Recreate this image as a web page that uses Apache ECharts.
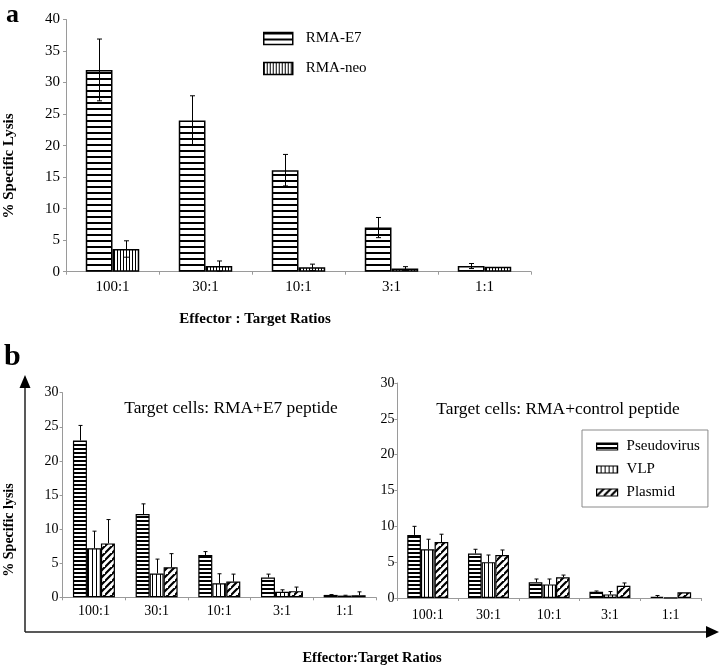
<!DOCTYPE html>
<html>
<head>
<meta charset="utf-8">
<script src="https://cdn.jsdelivr.net/npm/echarts@6/dist/echarts.min.js"></script>
<style>html,body{margin:0;padding:0;background:#fff}#c{width:721px;height:667px}</style>
</head>
<body>
<div id="c"></div>
<script>
// ---------- data ----------
const categories = ['100:1', '30:1', '10:1', '3:1', '1:1'];
const aE7 = [32.0, 24.0, 16.1, 7.0, 0.9];
const aE7Err = [4.9, 3.9, 2.5, 1.6, 0.4];
const aNeo = [3.6, 0.9, 0.7, 0.5, 0.8];
const aNeoErr = [1.3, 0.8, 0.5, 0.3, 0.0];

const bE7Pseudo = [23.0, 12.2, 6.2, 2.9, 0.35];
const bE7PseudoErr = [2.2, 1.5, 0.5, 0.5, 0.05];
const bE7VLP = [7.2, 3.5, 2.05, 0.8, 0.25];
const bE7VLPErr = [2.5, 2.1, 1.4, 0.3, 0.05];
const bE7Plasmid = [7.9, 4.4, 2.3, 0.9, 0.3];
const bE7PlasmidErr = [3.5, 2.0, 1.1, 0.6, 0.5];

const bCtlPseudo = [8.8, 6.2, 2.2, 0.88, 0.15];
const bCtlPseudoErr = [1.2, 0.6, 0.45, 0.1, 0.2];
const bCtlVLP = [6.8, 5.0, 1.9, 0.5, 0.05];
const bCtlVLPErr = [1.4, 1.0, 0.75, 0.4, 0.0];
const bCtlPlasmid = [7.8, 6.0, 2.9, 1.7, 0.8];
const bCtlPlasmidErr = [1.1, 0.7, 0.3, 0.4, 0.0];

const aYTicks = {min: 0, max: 40, interval: 5};
const bYTicks = {min: 0, max: 30, interval: 5};

// ---------- patterns ----------
function hPattern(period, thick) {
  const c = document.createElement('canvas');
  c.width = 8; c.height = period;
  const g = c.getContext('2d');
  g.fillStyle = '#fff'; g.fillRect(0, 0, 8, period);
  g.fillStyle = '#000'; g.fillRect(0, 0, 8, thick);
  return {image: c, repeat: 'repeat'};
}
function vPattern(period, thick) {
  const c = document.createElement('canvas');
  c.width = period; c.height = 8;
  const g = c.getContext('2d');
  g.fillStyle = '#fff'; g.fillRect(0, 0, period, 8);
  g.fillStyle = '#000'; g.fillRect(0, 0, thick, 8);
  return {image: c, repeat: 'repeat'};
}
function dPattern(s, lw) {
  const c = document.createElement('canvas');
  c.width = s; c.height = s;
  const g = c.getContext('2d');
  g.fillStyle = '#fff'; g.fillRect(0, 0, s, s);
  g.strokeStyle = '#000'; g.lineWidth = lw;
  g.beginPath();
  g.moveTo(-1, s + 1); g.lineTo(s + 1, -1);
  g.moveTo(-1 - s, s + 1); g.lineTo(1, -1);
  g.moveTo(s - 1, 2 * s + 1); g.lineTo(2 * s + 1, s - 1);
  g.stroke();
  return {image: c, repeat: 'repeat'};
}

const FONT = "'Liberation Serif', 'Times New Roman', serif";
const AXIS_GRAY = '#9a9a9a';

function barSeries(name, xi, data, pattern, gap, bw) {
  return {
    type: 'bar', name, xAxisIndex: xi, yAxisIndex: xi, data,
    barGap: '0%', barCategoryGap: gap,
    itemStyle: {color: pattern, borderColor: '#000', borderWidth: bw},
    emphasis: {disabled: true}, silent: true, animation: false
  };
}
function errSeries(xi, vals, errs, idx, n, gapFrac, sym, capW) {
  return {
    type: 'custom', xAxisIndex: xi, yAxisIndex: xi, silent: true, animation: false, z: 5,
    data: vals.map((v, i) => [i, v, errs[i]]),
    renderItem(params, api) {
      const i = api.value(0), v = api.value(1), e = api.value(2);
      if (!e) return null;
      const band = api.size([1, 0])[0];
      const gw = band * (1 - gapFrac), bw = gw / n;
      const off = -gw / 2 + (idx + 0.5) * bw;
      const t = api.coord([i, v + e]);
      const b = api.coord([i, sym ? v - e : v]);
      const x = Math.round(t[0] + off) + 0.5;
      const st = {stroke: '#000', lineWidth: 1};
      const ch = [
        {type: 'line', shape: {x1: x, y1: t[1], x2: x, y2: b[1]}, style: st},
        {type: 'line', shape: {x1: x - capW, y1: t[1], x2: x + capW, y2: t[1]}, style: st}
      ];
      if (sym) ch.push({type: 'line', shape: {x1: x - capW, y1: b[1], x2: x + capW, y2: b[1]}, style: st});
      return {type: 'group', children: ch};
    }
  };
}

function catAxis(gi, fs, margin) {
  return {
    type: 'category', gridIndex: gi, data: categories,
    axisLine: {lineStyle: {color: AXIS_GRAY, width: 1}},
    axisTick: {show: true, length: 3, lineStyle: {color: AXIS_GRAY}},
    axisLabel: {color: '#000', fontFamily: FONT, fontSize: fs, margin}
  };
}
function valAxis(gi, t, fs, margin) {
  return {
    type: 'value', gridIndex: gi, min: t.min, max: t.max, interval: t.interval,
    splitLine: {show: false},
    axisLine: {show: true, lineStyle: {color: AXIS_GRAY, width: 1}},
    axisTick: {show: true, length: 3, lineStyle: {color: AXIS_GRAY}},
    axisLabel: {color: '#000', fontFamily: FONT, fontSize: fs, margin}
  };
}

const pA_H = hPattern(6, 2), pA_V = vPattern(3, 1);
const pB_H = hPattern(4, 2), pB_V = vPattern(4, 1), pB_D = dPattern(7, 2.2);

const gapA = 0.425, gapB1 = 0.33, gapB2 = 0.325;

const chart = echarts.init(document.getElementById('c'), null, {renderer: 'canvas'});
chart.setOption({
  backgroundColor: '#fff',
  animation: false,
  grid: [
    {left: 66, right: 190, top: 19.5, bottom: 395.3, containLabel: false},
    {left: 62.6, right: 345, top: 392.7, bottom: 69.7, containLabel: false},
    {left: 397.4, right: 20, top: 383, bottom: 69, containLabel: false}
  ],
  xAxis: [catAxis(0, 15, 8), catAxis(1, 14, 7), catAxis(2, 14, 10)],
  yAxis: [valAxis(0, aYTicks, 15, 6), valAxis(1, bYTicks, 14, 4), valAxis(2, bYTicks, 14, 3)],
  legend: [
    {
      data: ['RMA-E7', 'RMA-neo'], orient: 'vertical', left: 263, top: 31, padding: 0,
      icon: 'rect', itemWidth: 29, itemHeight: 12, itemGap: 15, selectedMode: false,
      itemStyle: {borderColor: '#000', borderWidth: 1.5},
      textStyle: {fontFamily: FONT, fontSize: 15, color: '#000', padding: [0, 0, 0, 8]}
    },
    {
      data: ['Pseudovirus', 'VLP', 'Plasmid'], orient: 'vertical', left: 582, top: 430,
      padding: [9, 8, 7, 14], borderColor: '#8a8a8a', borderWidth: 1,
      icon: 'rect', itemWidth: 21, itemHeight: 7, itemGap: 8, selectedMode: false,
      itemStyle: {borderColor: '#000', borderWidth: 1.2},
      textStyle: {fontFamily: FONT, fontSize: 15, color: '#000', padding: [0, 0, 0, 4]}
    }
  ],
  series: [
    barSeries('RMA-E7', 0, aE7, pA_H, '42.5%', 1.5),
    barSeries('RMA-neo', 0, aNeo, pA_V, '42.5%', 1.5),
    errSeries(0, aE7, aE7Err, 0, 2, gapA, true, 2.5),
    errSeries(0, aNeo, aNeoErr, 1, 2, gapA, true, 2.5),

    barSeries('Pseudovirus', 1, bE7Pseudo, pB_H, '33%', 1.2),
    barSeries('VLP', 1, bE7VLP, pB_V, '33%', 1.2),
    barSeries('Plasmid', 1, bE7Plasmid, pB_D, '33%', 1.2),
    errSeries(1, bE7Pseudo, bE7PseudoErr, 0, 3, gapB1, false, 2),
    errSeries(1, bE7VLP, bE7VLPErr, 1, 3, gapB1, false, 2),
    errSeries(1, bE7Plasmid, bE7PlasmidErr, 2, 3, gapB1, false, 2),

    barSeries('Pseudovirus', 2, bCtlPseudo, pB_H, '32.5%', 1.2),
    barSeries('VLP', 2, bCtlVLP, pB_V, '32.5%', 1.2),
    barSeries('Plasmid', 2, bCtlPlasmid, pB_D, '32.5%', 1.2),
    errSeries(2, bCtlPseudo, bCtlPseudoErr, 0, 3, gapB2, false, 2),
    errSeries(2, bCtlVLP, bCtlVLPErr, 1, 3, gapB2, false, 2),
    errSeries(2, bCtlPlasmid, bCtlPlasmidErr, 2, 3, gapB2, false, 2)
  ],
  graphic: [
    {type: 'text', x: 6, y: 2, style: {text: 'a', font: 'bold 26px ' + FONT, fill: '#000'}},
    {type: 'text', x: 4, y: 342, style: {text: 'b', font: 'bold 30px ' + FONT, fill: '#000'}},
    {type: 'text', x: 9, y: 166, rotation: Math.PI / 2,
     style: {text: '% Specific Lysis', font: 'bold 15px ' + FONT, fill: '#000', textAlign: 'center', textVerticalAlign: 'middle'}},
    {type: 'text', x: 9, y: 530, rotation: Math.PI / 2,
     style: {text: '% Specific lysis', font: 'bold 14px ' + FONT, fill: '#000', textAlign: 'center', textVerticalAlign: 'middle'}},
    {type: 'text', x: 255, y: 319,
     style: {text: 'Effector : Target Ratios', font: 'bold 15px ' + FONT, fill: '#000', textAlign: 'center', textVerticalAlign: 'middle'}},
    {type: 'text', x: 372, y: 658,
     style: {text: 'Effector:Target Ratios', font: 'bold 14.5px ' + FONT, fill: '#000', textAlign: 'center', textVerticalAlign: 'middle'}},
    {type: 'text', x: 231, y: 408,
     style: {text: 'Target cells: RMA+E7 peptide', font: '17.4px ' + FONT, fill: '#000', textAlign: 'center', textVerticalAlign: 'middle'}},
    {type: 'text', x: 558, y: 409,
     style: {text: 'Target cells: RMA+control peptide', font: '17.4px ' + FONT, fill: '#000', textAlign: 'center', textVerticalAlign: 'middle'}},
    {type: 'line', shape: {x1: 25, y1: 632, x2: 25, y2: 386}, style: {stroke: '#222', lineWidth: 1.5}},
    {type: 'polygon', shape: {points: [[25, 375], [19.5, 388], [30.5, 388]]}, style: {fill: '#000'}},
    {type: 'line', shape: {x1: 25, y1: 632, x2: 708, y2: 632}, style: {stroke: '#222', lineWidth: 1.5}},
    {type: 'polygon', shape: {points: [[719, 632], [706, 626], [706, 638]]}, style: {fill: '#000'}}
  ]
});
</script>
</body>
</html>
